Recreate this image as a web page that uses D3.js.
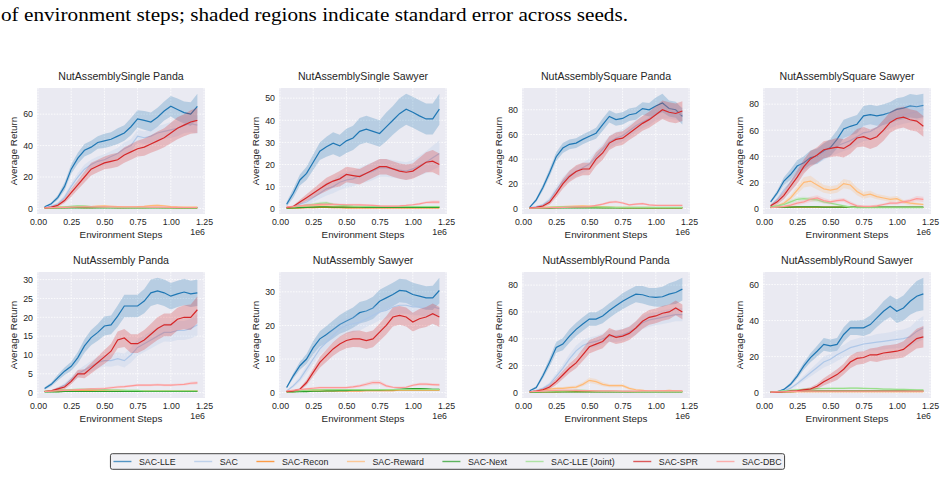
<!DOCTYPE html>
<html>
<head>
<meta charset="utf-8">
<script src="https://cdn.jsdelivr.net/npm/d3@7"></script>
<style>
body { margin: 0; background: #fff; }
text { font-family: "Liberation Sans", Arial, sans-serif; fill: #262626; }
</style>
</head>
<body>
<svg id="chart" width="945" height="495"></svg>
<script>
// environment steps (x 1e6)
const steps = [0.05,0.10,0.15,0.20,0.25,0.30,0.35,0.40,0.45,0.50,0.55,0.60,0.65,0.70,0.75,0.80,0.85,0.90,0.95,1.00,1.05,1.10,1.15,1.20];
const methods = ["SAC-LLE","SAC","SAC-Recon","SAC-Reward","SAC-Next","SAC-LLE (Joint)","SAC-SPR","SAC-DBC"];
const colors = ["#1f77b4","#aec7e8","#ff7f0e","#ffbb78","#2ca02c","#98df8a","#d62728","#ff9896"];
const panelTitles = ["NutAssemblySingle Panda","NutAssemblySingle Sawyer","NutAssemblySquare Panda","NutAssemblySquare Sawyer",
                     "NutAssembly Panda","NutAssembly Sawyer","NutAssemblyRound Panda","NutAssemblyRound Sawyer"];
const xTicks = [0,0.25,0.5,0.75,1.0,1.25];
const yTicks = [[0,20,40,60],[0,10,20,30,40,50],[0,20,40,60,80],[0,20,40,60,80],
                [0,5,10,15,20,25,30],[0,10,20,30],[0,20,40,60,80],[0,20,40,60]];

// means, in the order of methods
const meanSinglePanda = [
  [1,3,7,14,25,32,37,39,42,43,44,46,48,52,57,56,55,58,62,65,63,61,60,65],
  [0.5,1.5,3,7,14,20,25,28,30,31,33,35,38,40,46,45,46,48,49,50,51,53,54,53],
  [0.3,0.4,0.5,0.5,0.6,0.6,0.5,0.5,0.6,0.7,0.6,0.5,0.5,0.6,0.5,0.5,0.6,0.6,0.5,0.5,0.4,0.4,0.4,0.4],
  [0.5,0.6,0.8,1,1,1.2,1.3,1.2,1.5,1.6,1.4,1.2,1,1,1.1,1.3,1.8,2,1.7,1.2,1,0.9,0.8,0.8],
  [0.3,0.3,0.4,0.4,0.3,0.3,0.3,0.3,0.3,0.3,0.3,0.3,0.3,0.3,0.3,0.3,0.3,0.3,0.3,0.3,0.3,0.3,0.3,0.3],
  [0.5,0.6,0.8,1,1.3,1.6,1.5,1.2,1,0.8,0.7,0.6,0.6,0.5,0.5,0.5,0.5,0.5,0.5,0.5,0.5,0.5,0.5,0.5],
  [0.3,0.8,2,5,10,15,20,25,27,29,30,31,34,36,38,39,41,43,45,48,51,53,55,56],
  [0.4,0.5,0.6,0.7,0.8,0.9,1,1,1,1,1,0.9,0.9,0.9,0.9,0.9,0.8,0.8,0.8,0.7,0.7,0.6,0.6,0.6]
];
const errSinglePanda = [
  [0.3,0.8,1.5,2.5,3,3.5,4,4,4,4.5,4.5,5,5,5.5,5.5,6,6,6,6,6.5,7,7,7.5,8],
  [0.2,0.5,1,1.5,2,2.5,3,3,3,3.5,3.5,3.5,4,4,4,4,4.5,4.5,4.5,5,5,5,5.5,5.5],
  [0.1,0.1,0.2,0.2,0.2,0.2,0.2,0.2,0.2,0.2,0.2,0.2,0.2,0.2,0.2,0.2,0.2,0.2,0.2,0.2,0.2,0.2,0.2,0.2],
  [0.2,0.2,0.3,0.3,0.4,0.4,0.4,0.4,0.5,0.5,0.5,0.4,0.4,0.4,0.4,0.5,0.6,0.6,0.5,0.4,0.4,0.3,0.3,0.3],
  [0.1,0.1,0.1,0.1,0.1,0.1,0.1,0.1,0.1,0.1,0.1,0.1,0.1,0.1,0.1,0.1,0.1,0.1,0.1,0.1,0.1,0.1,0.1,0.1],
  [0.2,0.2,0.3,0.4,0.5,0.6,0.6,0.5,0.4,0.3,0.3,0.2,0.2,0.2,0.2,0.2,0.2,0.2,0.2,0.2,0.2,0.2,0.2,0.2],
  [0.2,0.5,1,1.5,2.5,3,3.5,4,4,4,4.5,4.5,5,5,5,5.5,5.5,6,6,6.5,7,7,7.5,8],
  [0.2,0.2,0.2,0.2,0.3,0.3,0.3,0.3,0.3,0.3,0.3,0.3,0.3,0.3,0.3,0.3,0.3,0.3,0.3,0.2,0.2,0.2,0.2,0.2]
];

const meanSingleSawyer = [
  [2,7,13,16,21,26,28,29.6,28.4,30.7,32,35,36,35,34,37,40,43,45,43.6,42,40.6,40.6,45],
  [0.5,1,2,3,5,7,9,10,12,13,13.5,15,16,17,18.5,18.5,18,17.5,17,18,19.5,21,23,25],
  [0.3,0.3,0.4,0.5,0.5,0.6,0.6,0.5,0.5,0.4,0.4,0.4,0.4,0.4,0.4,0.4,0.4,0.4,0.4,0.4,0.4,0.4,0.4,0.4],
  [0.5,0.8,1,1.2,1.3,1.3,1.2,1.1,1,1,1,0.9,0.9,0.8,0.8,0.8,0.8,0.8,0.7,0.7,0.7,0.7,0.7,0.7],
  [0.3,0.4,0.5,0.6,0.7,0.8,0.8,0.7,0.7,0.7,0.7,0.7,0.6,0.6,0.6,0.6,0.6,0.6,0.6,0.6,0.6,0.6,0.6,0.6],
  [0.5,0.8,1.2,1.6,2,2.4,2.6,2,1.6,1.4,1.2,1.1,1,1,1,1,1,1,1,1,1,1,1,1],
  [0.5,1,3,5,7,9,11,12.5,13.5,15.5,15,14.5,16,17.5,19,19,18,17,16.5,17,19,21,21.5,20],
  [0.8,1,1.3,1.6,1.8,2,2,2,1.9,1.8,1.8,1.7,1.6,1.5,1.3,1.2,1.2,1.3,1.5,1.8,2.2,2.8,3,3]
];
const errSingleSawyer = [
  [1,2,2.5,3,3.5,4,4.5,5,5,5.5,5.5,6,6,6,6,6.5,6.5,7,7,7,7,7,7,7],
  [0.3,0.5,1,1.5,2,2.5,3,3,3.5,3.5,3.5,3.5,4,4,4,4,4,4,4,4,4.5,5,5.5,6],
  [0.1,0.1,0.2,0.2,0.2,0.2,0.2,0.2,0.2,0.2,0.2,0.2,0.2,0.2,0.2,0.2,0.2,0.2,0.2,0.2,0.2,0.2,0.2,0.2],
  [0.2,0.3,0.4,0.4,0.4,0.4,0.4,0.4,0.3,0.3,0.3,0.3,0.3,0.3,0.3,0.3,0.3,0.3,0.3,0.3,0.3,0.3,0.3,0.3],
  [0.1,0.1,0.2,0.2,0.2,0.2,0.2,0.2,0.2,0.2,0.2,0.2,0.2,0.2,0.2,0.2,0.2,0.2,0.2,0.2,0.2,0.2,0.2,0.2],
  [0.2,0.3,0.4,0.5,0.6,0.7,0.7,0.6,0.5,0.4,0.4,0.3,0.3,0.3,0.3,0.3,0.3,0.3,0.3,0.3,0.3,0.3,0.3,0.3],
  [0.3,0.5,1,1.5,2,2.5,3,3,3.5,3.5,3.5,3.5,3.5,3.5,3.5,3.5,3.5,3.5,3.5,3.5,4,4.5,5,5],
  [0.3,0.3,0.4,0.4,0.5,0.5,0.5,0.5,0.5,0.5,0.5,0.5,0.4,0.4,0.4,0.4,0.4,0.4,0.4,0.5,0.5,0.6,0.7,0.7]
];

const meanSquarePanda = [
  [1,7,17,29,42,49,52,53,56,58.5,61,68,74.6,72,73,76,77,81,80,83,85.5,81,80,74.6],
  [0.5,1.5,3,7,15,22,27,30,33,36,42,48,54,57,59,63,67,70,73,77,79,79,78,76],
  [0.3,0.4,0.5,0.7,0.8,1,1,1.1,1.1,1,0.9,0.8,0.7,0.7,0.6,0.6,0.5,0.5,0.5,0.5,0.5,0.5,0.5,0.5],
  [0.5,0.7,1,1.2,1.4,1.6,1.8,2,2.2,2,1.8,1.5,1.2,1,1,1,0.9,0.9,0.9,0.8,0.8,0.8,0.8,0.8],
  [0.3,0.3,0.4,0.4,0.5,0.5,0.5,0.5,0.5,0.5,0.5,0.5,0.5,0.5,0.5,0.5,0.5,0.5,0.5,0.5,0.5,0.5,0.5,0.5],
  [0.5,0.6,0.8,1,1.2,1.4,1.5,1.5,1.5,1.4,1.3,1.2,1.1,1,1,1,1,1,1,1,1,1,1,1],
  [0.5,1,2,5,12,20,26,30,32,32,40,45,53,56,57,61,65,69,72,76,80,78,77,79],
  [0.4,0.5,0.6,0.7,0.8,1,1.2,1.3,1.4,1.5,2.5,3.5,5,5.5,4.5,3,3.5,4,3,2.5,2.5,2.5,2.5,2.5]
];
const errSquarePanda = [
  [0.5,1.5,2.5,3,3.5,4,4,4,4,4,4.5,5,5,5,5,5,5,5,5.5,7,7.5,6.5,6.5,6.5],
  [0.3,0.5,1,2,3,3.5,4,4,4,4.5,4.5,4.5,5,5,5,5,5,5,5.5,5.5,6,6,6,6],
  [0.1,0.2,0.2,0.3,0.3,0.4,0.4,0.4,0.4,0.4,0.3,0.3,0.3,0.3,0.2,0.2,0.2,0.2,0.2,0.2,0.2,0.2,0.2,0.2],
  [0.2,0.3,0.4,0.4,0.5,0.6,0.6,0.7,0.7,0.7,0.6,0.5,0.4,0.4,0.4,0.4,0.3,0.3,0.3,0.3,0.3,0.3,0.3,0.3],
  [0.1,0.1,0.1,0.1,0.2,0.2,0.2,0.2,0.2,0.2,0.2,0.2,0.2,0.2,0.2,0.2,0.2,0.2,0.2,0.2,0.2,0.2,0.2,0.2],
  [0.2,0.2,0.3,0.4,0.4,0.5,0.5,0.5,0.5,0.5,0.4,0.4,0.4,0.3,0.3,0.3,0.3,0.3,0.3,0.3,0.3,0.3,0.3,0.3],
  [0.3,0.5,1,2,3,4,4.5,5,5,5,5.5,5.5,5.5,5.5,5.5,5.5,6,6,6.5,7,7.5,8,8,8],
  [0.2,0.2,0.2,0.3,0.3,0.3,0.4,0.4,0.4,0.5,0.6,0.8,1,1,0.9,0.7,0.8,0.8,0.7,0.6,0.6,0.6,0.6,0.6]
];

const meanSquareSawyer = [
  [5,12,21,26,32.5,35,39,40,44,46.7,53,61,63,64.6,71,72,71,72,73.6,76,77,78.7,78,79],
  [2,7,14,20,27,33,37,40,43,46,48,50,52,55,58,59,62,65,68,70,72,73,74,76],
  [0.8,0.9,1,1,1,1,1,1,1,1,1,1,1,0.9,0.9,0.9,0.9,0.9,0.9,0.9,0.9,0.9,0.9,0.9],
  [1,2,4,8,14,20,21,18,15,14,15,19,18,13,10,11,9,8,7,7.5,5,4,3.5,3],
  [0.8,0.9,1,1,1.1,1.1,1.1,1.1,1,1,1,1,1,1,1,1,1,1,1,1,1,1,1,1],
  [1,2,3,5,7,7.5,7,6.5,5,4,3,2,1,0.5,0.5,0.5,0.5,0.5,0.5,0.5,0.5,0.5,0.5,0.5],
  [2,5,10,17,24,32,38,41,45,46,47,46,49,54,55,53,55,60,66,69,70,68,67,63],
  [0.5,1,1.5,2.5,4,5,7,8,6,5,6,6.5,4,2,1.5,1.5,2,3,4,4,5,6,7.5,7]
];
const errSquareSawyer = [
  [1,2,3,4,4.5,5,5.5,6,6,6.5,7,7,7,7,7.5,7.5,7.5,8,8,8.5,8.5,9,9,9],
  [1,2,3,4,4.5,5,5.5,5.5,6,6,6,6,6,6,6.5,6.5,6.5,6.5,6.5,6.5,7,7,7,7],
  [0.2,0.2,0.2,0.2,0.2,0.2,0.2,0.2,0.2,0.2,0.2,0.2,0.2,0.2,0.2,0.2,0.2,0.2,0.2,0.2,0.2,0.2,0.2,0.2],
  [0.5,1,1.5,2,3,4,4,3.5,3,3,3,3.5,3.5,3,2.5,2.5,2,2,2,2,1.5,1.5,1,1],
  [0.2,0.2,0.2,0.2,0.2,0.2,0.2,0.2,0.2,0.2,0.2,0.2,0.2,0.2,0.2,0.2,0.2,0.2,0.2,0.2,0.2,0.2,0.2,0.2],
  [0.5,0.8,1,1.5,1.5,1.5,1.5,1.5,1.2,1,1,0.8,0.6,0.4,0.3,0.3,0.3,0.3,0.3,0.3,0.3,0.3,0.3,0.3],
  [1,2,3,4,5,5.5,6,6,6.5,6.5,7,7,7,7,7.5,7.5,7.5,8,8,8,8,8,8,8],
  [0.3,0.5,0.8,1,1.5,1.5,2,2,2,1.5,1.5,1.5,1.5,1,0.8,0.8,1,1,1.2,1.2,1.3,1.5,2,2]
];

const meanAssemblyPanda = [
  [1.1,2.2,4,5.7,7,9.3,12.4,14.6,16,17.7,18,20.3,23,23,23,24.3,26.5,27,26.5,25.6,26.2,26.7,26.2,26.5],
  [0.3,0.5,1,2,3.5,5,6,7,8,8.5,8.5,9,8.5,10,12,13,14,15,16,16,16.5,16.5,17,18],
  [0.3,0.3,0.4,0.4,0.5,0.5,0.5,0.5,0.5,0.5,0.5,0.5,0.5,0.5,0.5,0.5,0.5,0.5,0.5,0.5,0.5,0.5,0.5,0.5],
  [0.4,0.5,0.6,0.7,0.8,0.8,0.8,0.8,0.7,0.7,0.6,0.6,0.6,0.5,0.5,0.5,0.5,0.5,0.5,0.5,0.5,0.5,0.4,0.4],
  [0.2,0.2,0.2,0.3,0.3,0.3,0.3,0.3,0.3,0.3,0.3,0.3,0.3,0.3,0.3,0.3,0.3,0.3,0.3,0.3,0.3,0.3,0.3,0.3],
  [0.4,0.5,0.6,0.7,0.8,0.9,0.9,0.9,0.8,0.8,0.7,0.7,0.6,0.6,0.6,0.5,0.5,0.5,0.5,0.5,0.5,0.5,0.5,0.5],
  [0.3,0.5,1,1.5,3,5,5,6.5,8,9.5,11,14,14.5,13,13,14,15.5,17,18,18,19.5,20,20,22],
  [0.3,0.4,0.5,0.6,0.7,0.8,0.9,1,1,1.1,1.3,1.5,1.6,1.8,2,2,2,2.1,2,2,2.1,2.2,2.5,2.6]
];
const errAssemblyPanda = [
  [0.3,0.5,0.8,1,1.2,1.5,1.8,2,2.2,2.5,2.5,2.8,3,3,3,3.2,3.5,3.5,3.5,3.5,3.5,3.5,3.5,3.5],
  [0.1,0.2,0.4,0.6,0.8,1,1.2,1.4,1.5,1.5,1.6,1.7,1.8,2,2.2,2.2,2.3,2.3,2.4,2.5,2.5,2.5,2.6,2.8],
  [0.1,0.1,0.1,0.1,0.1,0.1,0.1,0.1,0.1,0.1,0.1,0.1,0.1,0.1,0.1,0.1,0.1,0.1,0.1,0.1,0.1,0.1,0.1,0.1],
  [0.1,0.1,0.2,0.2,0.2,0.2,0.2,0.2,0.2,0.2,0.2,0.2,0.2,0.1,0.1,0.1,0.1,0.1,0.1,0.1,0.1,0.1,0.1,0.1],
  [0.1,0.1,0.1,0.1,0.1,0.1,0.1,0.1,0.1,0.1,0.1,0.1,0.1,0.1,0.1,0.1,0.1,0.1,0.1,0.1,0.1,0.1,0.1,0.1],
  [0.1,0.1,0.2,0.2,0.2,0.3,0.3,0.3,0.2,0.2,0.2,0.2,0.2,0.2,0.2,0.1,0.1,0.1,0.1,0.1,0.1,0.1,0.1,0.1],
  [0.1,0.2,0.4,0.6,0.8,1,1.2,1.4,1.6,1.8,2,2.2,2.4,2.5,2.5,2.6,2.8,3,3,3,3,3.2,3.4,3.5],
  [0.1,0.1,0.1,0.2,0.2,0.2,0.2,0.2,0.3,0.3,0.3,0.3,0.3,0.3,0.3,0.3,0.3,0.3,0.3,0.3,0.3,0.3,0.4,0.4]
];

const meanAssemblySawyer = [
  [1.5,5,8,10,13.4,16,17.3,18.8,20.3,21.3,22.3,23.8,24.3,25.2,27.2,28.2,29.2,30.4,30.2,29.2,28.7,28.2,28.2,30.4],
  [0.5,2,4,7,10,13,15,17,19,20,20.5,21,22,23,24,24.5,25.5,26,26,25.5,25.5,25,25.5,25],
  [0.3,0.3,0.4,0.4,0.5,0.5,0.5,0.5,0.5,0.5,0.5,0.5,0.6,0.6,0.6,0.6,0.6,0.7,0.7,0.7,0.7,0.7,0.7,0.7],
  [0.4,0.5,0.6,0.7,0.8,0.8,0.9,0.9,0.9,0.9,0.9,0.9,0.9,0.9,0.9,0.9,0.9,0.9,0.9,0.9,0.9,0.9,0.9,0.9],
  [0.2,0.2,0.3,0.3,0.4,0.4,0.5,0.5,0.6,0.6,0.7,0.7,0.8,0.8,0.8,0.9,0.9,1,1.1,1.2,1.2,1.1,1,1],
  [0.4,0.5,0.6,0.7,0.8,0.8,0.9,0.9,0.9,0.9,0.9,0.9,0.9,0.9,0.9,0.9,0.9,0.9,0.9,0.9,0.9,0.9,0.9,0.9],
  [0.3,0.5,1,3,6,9,11,13,14.5,15.5,16,16,15.5,16,18,20,22.5,23,22.5,21,22,22.5,23.5,22.5],
  [0.5,0.7,0.9,1.1,1.3,1.5,1.5,1.5,1.5,1.5,1.7,2,2.5,3,3,2,1.6,1.5,1.6,2.2,2.5,2.5,2.4,2.3]
];
const errAssemblySawyer = [
  [0.3,0.8,1.2,1.5,2,2.3,2.5,2.7,2.8,3,3,3.2,3.2,3.3,3.4,3.5,3.5,3.5,3.5,3.5,3.5,3.5,3.6,3.8],
  [0.2,0.5,0.8,1.2,1.5,1.8,2,2.2,2.3,2.4,2.5,2.5,2.5,2.5,2.5,2.5,2.5,2.5,2.5,2.5,2.5,2.5,2.5,2.5],
  [0.1,0.1,0.1,0.1,0.1,0.1,0.1,0.1,0.1,0.1,0.1,0.1,0.1,0.1,0.1,0.1,0.1,0.1,0.1,0.1,0.1,0.1,0.1,0.1],
  [0.1,0.1,0.2,0.2,0.2,0.2,0.2,0.2,0.2,0.2,0.2,0.2,0.2,0.2,0.2,0.2,0.2,0.2,0.2,0.2,0.2,0.2,0.2,0.2],
  [0.1,0.1,0.1,0.1,0.1,0.1,0.1,0.1,0.1,0.1,0.2,0.2,0.2,0.2,0.2,0.2,0.2,0.2,0.2,0.2,0.2,0.2,0.2,0.2],
  [0.1,0.1,0.2,0.2,0.2,0.2,0.2,0.2,0.2,0.2,0.2,0.2,0.2,0.2,0.2,0.2,0.2,0.2,0.2,0.2,0.2,0.2,0.2,0.2],
  [0.1,0.2,0.4,0.8,1.2,1.6,1.8,2,2.2,2.3,2.4,2.5,2.5,2.5,2.6,2.7,2.8,2.8,2.8,2.8,2.9,3,3,3],
  [0.1,0.2,0.2,0.3,0.3,0.3,0.3,0.3,0.3,0.3,0.4,0.4,0.5,0.6,0.6,0.4,0.3,0.3,0.3,0.4,0.4,0.4,0.4,0.4]
];

const meanRoundPanda = [
  [1.2,3.7,12.4,22.4,33.5,36,42,47,51,54.7,54.7,57,61,64.6,68,70.8,73.3,72.8,71.3,70.8,71.3,73.3,74.5,77],
  [0.5,1.5,3,6,12,18,25,31,35,37,38,40,42,42,43,45,48,52,54,55,56,57,58,58],
  [0.3,0.3,0.4,0.4,0.4,0.5,0.5,0.5,0.5,0.5,0.5,0.5,0.5,0.5,0.5,0.5,0.5,0.5,0.5,0.5,0.5,0.5,0.5,0.5],
  [0.5,1,2,2.5,3,3,3.5,4,6,9,8,6,5,5,5,3,2,1.5,1,1.2,1.2,1.5,1.2,1],
  [0.2,0.2,0.3,0.3,0.3,0.3,0.3,0.3,0.3,0.3,0.3,0.3,0.3,0.3,0.3,0.3,0.3,0.3,0.3,0.3,0.3,0.3,0.3,0.3],
  [0.5,0.6,0.8,1,1.1,1.2,1.3,1.5,1.5,1.4,1.2,1,0.9,0.8,0.7,0.7,0.6,0.6,0.6,0.6,0.6,0.6,0.6,0.6],
  [0.5,1,2,4,8,13,18,22,28,34,36,38,43,41,42,44,48,53,56,57,59,60,63,60],
  [0.5,0.8,1,1.3,1.5,1.6,1.6,1.5,1.4,1.3,1.2,1.1,1.1,1.1,1,1,1,1.1,1.2,1.2,1.2,1.2,1.2,1.2]
];
const errRoundPanda = [
  [0.5,1,2,3,4,4.5,5,5,5,5,5,5.5,5.5,5.5,6,6,6,6.5,6.5,7,7.5,8,8.5,8.5],
  [0.3,0.5,1,1.5,2.5,3,3.5,4,4,4,4,4,4.5,4.5,4.5,4.5,5,5,5,5,5,5,5,5],
  [0.1,0.1,0.1,0.1,0.1,0.1,0.1,0.1,0.1,0.1,0.1,0.1,0.1,0.1,0.1,0.1,0.1,0.1,0.1,0.1,0.1,0.1,0.1,0.1],
  [0.3,0.5,0.8,1,1,1,1.2,1.2,1.5,2,2,1.5,1.2,1.2,1.2,1,0.8,0.6,0.5,0.5,0.5,0.5,0.5,0.5],
  [0.1,0.1,0.1,0.1,0.1,0.1,0.1,0.1,0.1,0.1,0.1,0.1,0.1,0.1,0.1,0.1,0.1,0.1,0.1,0.1,0.1,0.1,0.1,0.1],
  [0.2,0.2,0.3,0.3,0.4,0.4,0.4,0.5,0.5,0.4,0.4,0.3,0.3,0.3,0.2,0.2,0.2,0.2,0.2,0.2,0.2,0.2,0.2,0.2],
  [0.2,0.5,1,1.5,2.5,3,3.5,4,4.5,5,5,5,5,5,5,5,5,5.5,5.5,5.5,5.5,5.5,5.5,5.5],
  [0.2,0.2,0.3,0.3,0.4,0.4,0.4,0.4,0.4,0.3,0.3,0.3,0.3,0.3,0.3,0.3,0.3,0.3,0.3,0.3,0.3,0.3,0.3,0.3]
];

const meanRoundSawyer = [
  [0.3,0.5,1.8,4.6,9.2,14.8,19.4,23,26.8,26,26.8,32.3,36,36,36,37.8,41.5,45.2,48,45.2,47,50.7,53.5,54.8],
  [0.3,0.5,1,2.5,5,8,11,14,17,18.5,21,23,25,26,27,27.5,28,28.5,29,29.5,30,31,34,36],
  [0.3,0.3,0.4,0.4,0.5,0.5,0.5,0.5,0.5,0.5,0.5,0.5,0.5,0.5,0.5,0.5,0.5,0.5,0.5,0.5,0.5,0.5,0.5,0.5],
  [0.4,0.5,0.6,0.7,0.8,0.9,1,1,1,1,1,1,1,1,1,1,1,1,1,1,1,1,1,1],
  [0.3,0.4,0.5,0.6,0.7,0.8,0.9,1,1,1,1,1,1,1,1,1,1,1,1,1,1,1,1,1],
  [0.5,0.7,1,1.3,1.6,1.8,2,2.2,2.3,2.4,2.4,2.4,2.5,2.5,2.4,2.3,2.2,2,1.9,1.8,1.8,1.7,1.6,1.6],
  [0.3,0.3,0.5,0.8,1,1.5,2,3.5,6,8,10,13,17,19,19.5,21,21,22,22.5,23,24,27,30,31],
  [0.3,0.4,0.5,0.6,0.7,0.8,0.8,0.8,0.8,0.8,0.8,0.8,0.8,0.8,0.8,0.8,0.8,0.8,0.8,0.8,0.8,0.8,0.8,0.8]
];
const errRoundSawyer = [
  [0.1,0.2,0.5,1,1.5,2,2.5,3,3.5,3.5,3.5,4,4,4,4.5,5,5,5.5,6,6.5,7,7.5,8.5,9],
  [0.1,0.2,0.3,0.6,1,1.5,2,2.5,3,3,3.5,3.5,4,4,4,4,4.5,4.5,4.5,5,5,5.5,6,6.5],
  [0.1,0.1,0.1,0.1,0.1,0.1,0.1,0.1,0.1,0.1,0.1,0.1,0.1,0.1,0.1,0.1,0.1,0.1,0.1,0.1,0.1,0.1,0.1,0.1],
  [0.1,0.1,0.2,0.2,0.2,0.2,0.2,0.2,0.2,0.2,0.2,0.2,0.2,0.2,0.2,0.2,0.2,0.2,0.2,0.2,0.2,0.2,0.2,0.2],
  [0.1,0.1,0.1,0.2,0.2,0.2,0.2,0.2,0.2,0.2,0.2,0.2,0.2,0.2,0.2,0.2,0.2,0.2,0.2,0.2,0.2,0.2,0.2,0.2],
  [0.2,0.2,0.3,0.4,0.4,0.5,0.5,0.5,0.5,0.5,0.5,0.5,0.5,0.5,0.5,0.5,0.5,0.4,0.4,0.4,0.4,0.4,0.4,0.4],
  [0.1,0.1,0.2,0.3,0.5,0.8,1,1.5,2,2.5,3,3,3.5,3.5,3.5,3.5,4,4,4,4,4.5,5,5.5,6],
  [0.1,0.1,0.1,0.2,0.2,0.2,0.2,0.2,0.2,0.2,0.2,0.2,0.2,0.2,0.2,0.2,0.2,0.2,0.2,0.2,0.2,0.2,0.2,0.2]
];

const caption = "of environment steps; shaded regions indicate standard error across seeds.";

const panelMeans = [meanSinglePanda, meanSingleSawyer, meanSquarePanda, meanSquareSawyer,
                    meanAssemblyPanda, meanAssemblySawyer, meanRoundPanda, meanRoundSawyer];
const panelErrs = [errSinglePanda, errSingleSawyer, errSquarePanda, errSquareSawyer,
                   errAssemblyPanda, errAssemblySawyer, errRoundPanda, errRoundSawyer];

// layout
const colLeft = [37, 279, 522, 763];
const rowTop = [88, 272];
const pw = 168, ph = 126;

const svg = d3.select("#chart");
svg.append("rect").attr("width", 945).attr("height", 495).attr("fill", "#fff");

svg.append("text")
    .attr("x", 1).attr("y", 21)
    .attr("textLength", 627).attr("lengthAdjust", "spacingAndGlyphs")
    .style("font-family", "'Liberation Serif','Times New Roman',serif")
    .style("font-size", "19px").style("fill", "#000")
    .text(caption);

function padExtent(lo, hi) {
    let r = hi - lo;
    return [lo - 0.05 * r, hi + 0.05 * r];
}

function drawPanel(i) {
    let col = i % 4, row = Math.floor(i / 4);
    let means = panelMeans[i], errs = panelErrs[i];
    let g = svg.append("g").attr("transform", "translate(" + [colLeft[col], rowTop[row]] + ")");

    let lo = d3.min(means, (m, k) => d3.min(m, (v, j) => v - errs[k][j]));
    let hi = d3.max(means, (m, k) => d3.max(m, (v, j) => v + errs[k][j]));
    let xScale = d3.scaleLinear().domain(padExtent(d3.min(steps), d3.max(steps))).range([0, pw]);
    let yScale = d3.scaleLinear().domain(padExtent(lo, hi)).range([ph, 0]);

    g.append("rect").attr("width", pw).attr("height", ph).attr("fill", "#eaeaf2");

    // grid
    g.selectAll(".gx").data(xTicks).enter().append("line")
        .attr("x1", d => xScale(d)).attr("x2", d => xScale(d))
        .attr("y1", 0).attr("y2", ph)
        .attr("stroke", "#fff").attr("stroke-width", 0.8).attr("stroke-dasharray", "1.6,1.2");
    g.selectAll(".gy").data(yTicks[i]).enter().append("line")
        .attr("x1", 0).attr("x2", pw)
        .attr("y1", d => yScale(d)).attr("y2", d => yScale(d))
        .attr("stroke", "#fff").attr("stroke-width", 0.8).attr("stroke-dasharray", "1.6,1.2");

    let area = d3.area()
        .x((d, j) => xScale(steps[j]))
        .y0(d => yScale(d[0] - d[1]))
        .y1(d => yScale(d[0] + d[1]));
    let line = d3.line()
        .x((d, j) => xScale(steps[j]))
        .y(d => yScale(d));

    methods.forEach((m, k) => {
        let band = means[k].map((v, j) => [v, errs[k][j]]);
        g.append("path").attr("d", area(band))
            .attr("fill", colors[k]).attr("fill-opacity", 0.25).attr("stroke", "none");
        g.append("path").attr("d", line(means[k]))
            .attr("fill", "none").attr("stroke", colors[k]).attr("stroke-width", 1.2);
    });

    // axes
    let ax = g.append("g").attr("transform", "translate(0," + ph + ")")
        .call(d3.axisBottom(xScale).tickValues(xTicks).tickSize(0).tickPadding(5).tickFormat(d3.format(".2f")));
    ax.select(".domain").remove();
    ax.selectAll("text").style("font-size", "8.8px").style("fill", "#262626")
        .style("font-family", "'Liberation Sans',Arial,sans-serif");

    let ay = g.append("g")
        .call(d3.axisLeft(yScale).tickValues(yTicks[i]).tickSize(0).tickPadding(4));
    ay.select(".domain").remove();
    ay.selectAll("text").style("font-size", "8.8px").style("fill", "#262626")
        .style("font-family", "'Liberation Sans',Arial,sans-serif");

    g.append("text").attr("x", pw).attr("y", ph + 21)
        .attr("text-anchor", "end").style("font-size", "8.8px").text("1e6");
    g.append("text").attr("x", pw / 2).attr("y", ph + 23.5)
        .attr("text-anchor", "middle").style("font-size", "9.8px").text("Environment Steps");
    g.append("text")
        .attr("transform", "translate(" + [-23, ph / 2] + ") rotate(-90)")
        .attr("text-anchor", "middle").attr("dy", "0.35em")
        .style("font-size", "9.8px").text("Average Return");
    g.append("text").attr("x", pw / 2).attr("y", -8)
        .attr("text-anchor", "middle").style("font-size", "10.6px").text(panelTitles[i]);
}

panelTitles.forEach((t, i) => drawPanel(i));

// legend
function legend() {
    let lg = svg.append("g");
    let box = lg.append("rect");
    let handle = 18, gap = 7.5, colGap = 18.6, pad = 3;
    let items = lg.selectAll(".item").data(methods).enter().append("g");
    items.append("text").attr("class", "lt").style("font-size", "8.8px").attr("dy", "0.35em").text(d => d);
    let widths = [];
    items.selectAll("text").each(function () { widths.push(this.getComputedTextLength()); });
    let total = d3.sum(widths) + methods.length * (handle + gap) + (methods.length - 1) * colGap;
    let x0 = 447.5 - total / 2;
    let cy = 461.5;
    let cx = x0;
    items.each(function (d, k) {
        let it = d3.select(this).attr("transform", "translate(" + [cx, cy] + ")");
        it.append("line").attr("x1", 0).attr("x2", handle)
            .attr("stroke", colors[k]).attr("stroke-width", 1.4).attr("stroke-opacity", 0.75);
        it.select("text").attr("x", handle + gap);
        cx += handle + gap + widths[k] + colGap;
    });
    box.attr("x", x0 - pad).attr("y", cy - 7.8)
        .attr("width", total + 2 * pad).attr("height", 15.6)
        .attr("rx", 2).attr("fill", "#f0f0f4").attr("stroke", "#444").attr("stroke-width", 1);
}
legend();
</script>
</body>
</html>
